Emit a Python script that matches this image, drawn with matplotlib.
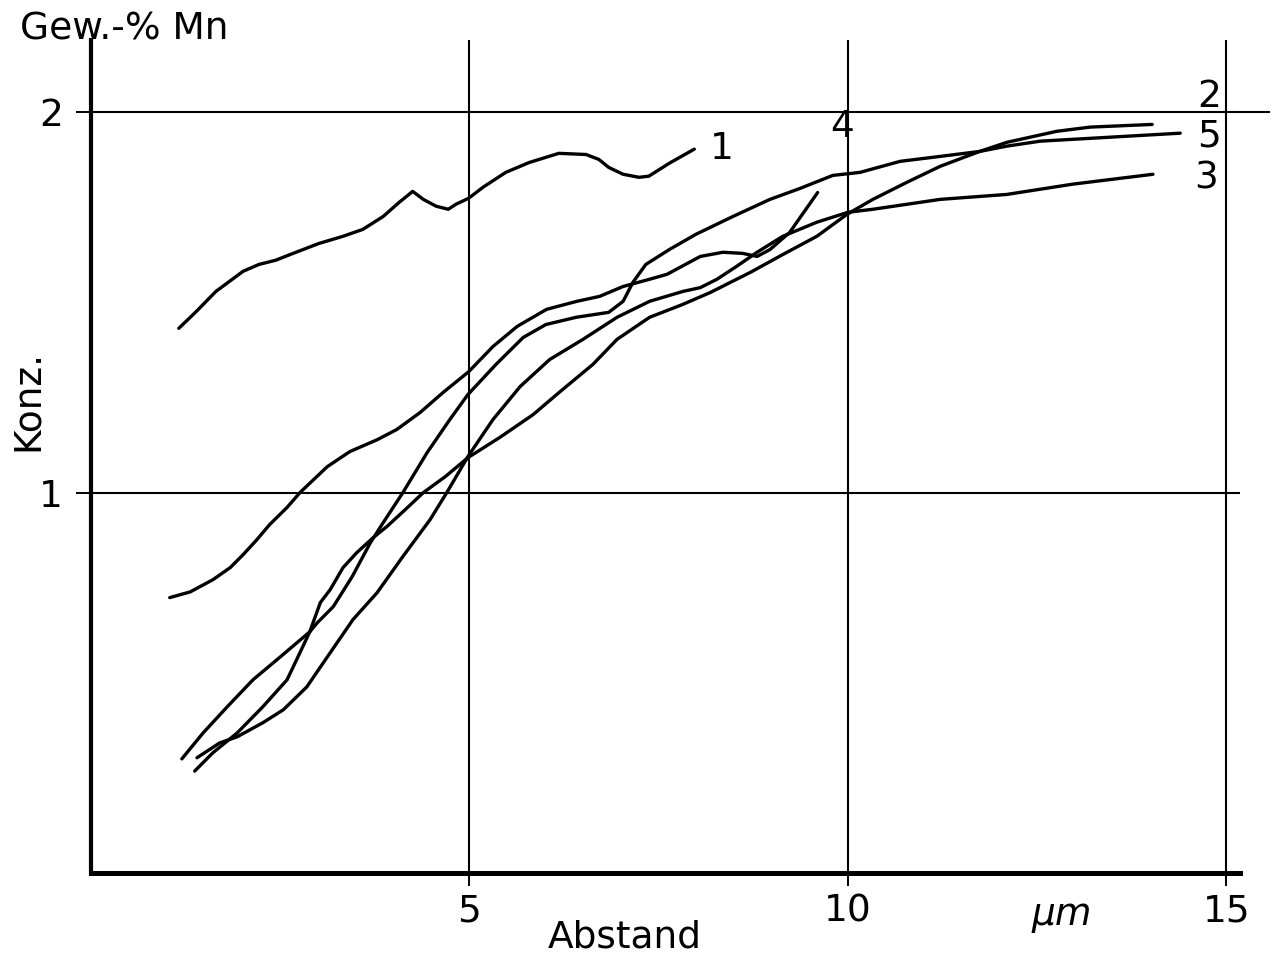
import matplotlib
matplotlib.use("Agg")
import matplotlib.pyplot as plt

# ---- data (Abstand in µm, Konz. in Gew.-% Mn) ----
x1 = [1.16, 1.39, 1.65, 2.01, 2.22, 2.44, 2.67, 3.01, 3.33, 3.59, 3.86, 4.07, 4.25,
      4.39, 4.56, 4.72, 4.82, 4.99, 5.18, 5.48, 5.79, 6.18, 6.54, 6.71, 6.84, 7.03,
      7.24, 7.37, 7.64, 7.97]
y1 = [1.432, 1.476, 1.529, 1.582, 1.600, 1.611, 1.629, 1.655, 1.674, 1.692, 1.726,
      1.763, 1.792, 1.771, 1.753, 1.745, 1.758, 1.774, 1.803, 1.842, 1.868, 1.892,
      1.889, 1.876, 1.855, 1.837, 1.829, 1.832, 1.866, 1.903]

x2 = [1.37, 1.61, 1.93, 2.27, 2.59, 2.76, 2.89, 3.03, 3.16, 3.33, 3.51, 3.73, 3.91,
      4.15, 4.39, 4.68, 4.98, 5.40, 5.84, 6.20, 6.63, 6.95, 7.38, 7.82, 8.18, 8.71,
      9.14, 9.59, 9.99, 10.33, 10.78, 11.22, 11.74, 12.10, 12.76, 13.20, 14.02]
y2 = [0.268, 0.316, 0.368, 0.437, 0.508, 0.579, 0.634, 0.711, 0.745, 0.803, 0.842,
      0.882, 0.911, 0.955, 1.000, 1.042, 1.092, 1.145, 1.205, 1.266, 1.337, 1.403,
      1.461, 1.495, 1.526, 1.579, 1.626, 1.674, 1.732, 1.771, 1.816, 1.858, 1.897,
      1.921, 1.950, 1.961, 1.968]

x3 = [1.40, 1.70, 1.93, 2.27, 2.54, 2.85, 3.16, 3.46, 3.78, 4.12, 4.48, 4.70, 4.98,
      5.31, 5.67, 6.06, 6.50, 6.95, 7.38, 7.82, 8.05, 8.27, 8.53, 8.80, 9.14, 9.59,
      10.00, 10.33, 11.22, 12.10, 12.97, 14.03]
y3 = [0.303, 0.342, 0.358, 0.395, 0.429, 0.489, 0.579, 0.666, 0.737, 0.832, 0.929,
      1.000, 1.095, 1.192, 1.279, 1.350, 1.403, 1.461, 1.503, 1.529, 1.539, 1.561,
      1.595, 1.632, 1.674, 1.711, 1.737, 1.745, 1.771, 1.784, 1.811, 1.837]

x4 = [1.04, 1.31, 1.61, 1.84, 2.01, 2.19, 2.36, 2.59, 2.76, 3.12, 3.42, 3.78, 4.04,
      4.35, 4.65, 4.99, 5.31, 5.63, 6.02, 6.42, 6.72, 7.03, 7.38, 7.61, 8.05, 8.35,
      8.61, 8.80, 8.97, 9.23, 9.60]
y4 = [0.724, 0.739, 0.771, 0.803, 0.837, 0.876, 0.916, 0.961, 1.000, 1.068, 1.108,
      1.139, 1.166, 1.211, 1.263, 1.318, 1.384, 1.437, 1.482, 1.503, 1.516, 1.542,
      1.561, 1.574, 1.621, 1.632, 1.629, 1.621, 1.639, 1.684, 1.789]

x5 = [1.20, 1.48, 1.80, 2.14, 2.50, 2.89, 2.99, 3.20, 3.45, 3.69, 3.86, 4.12, 4.44,
      4.74, 4.98, 5.35, 5.71, 6.01, 6.41, 6.84, 7.03, 7.16, 7.33, 7.64, 7.99, 8.48,
      8.97, 9.37, 9.80, 10.16, 10.69, 11.22, 11.74, 12.10, 12.54, 13.42, 14.39]
y5 = [0.300, 0.368, 0.437, 0.508, 0.568, 0.634, 0.658, 0.700, 0.779, 0.868, 0.921,
      1.000, 1.105, 1.192, 1.258, 1.337, 1.408, 1.442, 1.461, 1.474, 1.503, 1.553,
      1.600, 1.639, 1.679, 1.726, 1.771, 1.800, 1.834, 1.842, 1.871, 1.884, 1.897,
      1.911, 1.924, 1.934, 1.945]

curve_names = ["1", "2", "3", "4", "5"]
label_x = [8.18, 14.61, 14.58, 9.76, 14.61]
label_y = [1.903, 2.04, 1.826, 1.96, 1.937]

x_ticks = [5, 10, 15]
y_ticks = [1, 2]

FONT = dict(family="DejaVu Sans")
FS = 27

fig = plt.figure(figsize=(12.72, 9.6), dpi=100)
fig.patch.set_facecolor("white")
ax = fig.add_axes([91 / 1272, 87 / 960, (1240 - 91) / 1272, (873 - 40) / 960])
ax.set_xlim(0, 15.18)
ax.set_ylim(0, 2.19)

for s in ("top", "right"):
    ax.spines[s].set_visible(False)
ax.spines["left"].set_linewidth(3.0)
ax.spines["bottom"].set_linewidth(3.6)

ax.set_xticks(x_ticks)
ax.set_yticks(y_ticks)
ax.set_xticklabels([str(v) for v in x_ticks], **FONT)
ax.set_yticklabels([str(v) for v in y_ticks], **FONT)
ax.tick_params(axis="x", direction="out", length=9, width=1.4, labelsize=FS, pad=6)
ax.tick_params(axis="y", direction="out", length=11, width=1.4, labelsize=FS, pad=9)
ax.grid(True, color="black", linewidth=1.5)
ax.axhline(2, xmin=1.0, xmax=1.025, color="black", linewidth=1.5, clip_on=False)

lw = 2.4
for xs, ys in [(x1, y1), (x2, y2), (x3, y3), (x4, y4), (x5, y5)]:
    ax.plot(xs, ys, color="black", linewidth=lw, solid_joinstyle="round",
            solid_capstyle="round")

for name, lx, ly in zip(curve_names, label_x, label_y):
    ax.text(lx, ly, name, fontsize=FS, ha="left", va="center", **FONT)

fig.text(20 / 1272, 1 - 30 / 960, "Gew.-% Mn", fontsize=FS, ha="left", va="center", **FONT)
fig.text(28 / 1272, 1 - 400 / 960, "Konz.", fontsize=FS, rotation=90, ha="center",
         va="center", **FONT)
fig.text(625 / 1272, 1 - 938 / 960, "Abstand", fontsize=FS, ha="center", va="center", **FONT)
fig.text(1062 / 1272, 1 - 915 / 960, "µm", fontsize=FS, ha="center", va="center",
         style="italic", **FONT)

fig.savefig("out.png", dpi=100, facecolor="white")
